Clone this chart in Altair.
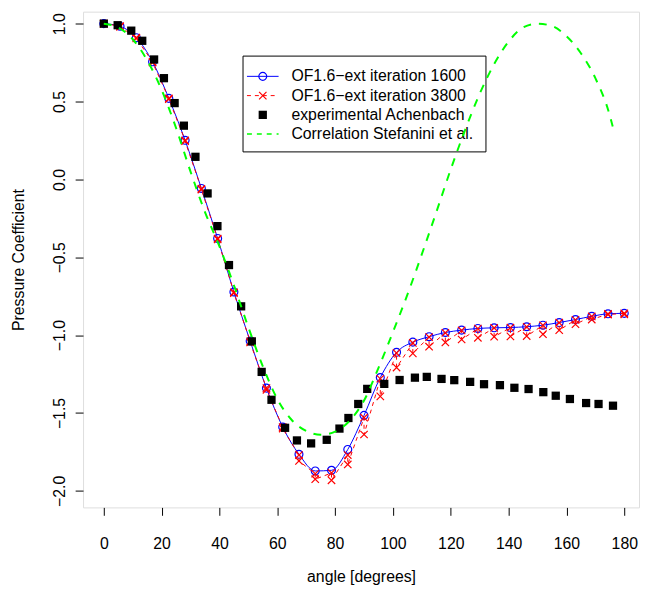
import altair as alt
import pandas as pd

# ---------------- data ----------------
sim_angle = [0, 5.625, 11.25, 16.875, 22.5, 28.125, 33.75, 39.375, 45, 50.625, 56.25,
             61.875, 67.5, 73.125, 78.75, 84.375, 90, 95.625, 101.25, 106.875, 112.5,
             118.125, 123.75, 129.375, 135, 140.625, 146.25, 151.875, 157.5, 163.125,
             168.75, 174.375, 180]
cp_1600 = [1.0, 0.983, 0.91, 0.755, 0.52, 0.251, -0.058, -0.379, -0.723, -1.038, -1.34,
           -1.59, -1.765, -1.872, -1.868, -1.734, -1.515, -1.272, -1.11, -1.045, -1.01,
           -0.983, -0.968, -0.957, -0.953, -0.951, -0.946, -0.936, -0.919, -0.9, -0.879,
           -0.863, -0.86]
cp_3800_a = [1.0, 0.985, 0.91, 0.755, 0.52, 0.25, -0.06, -0.38, -0.725, -1.04, -1.34,
             -1.59, -1.77, -1.89, -1.885, -1.77, -1.53, -1.28, -1.115, -1.05, -1.012,
             -0.985, -0.97, -0.958, -0.954, -0.952, -0.947, -0.937, -0.92, -0.902, -0.88,
             -0.864, -0.86]
cp_3800_b = [1.0, 0.98, 0.905, 0.75, 0.515, 0.245, -0.065, -0.385, -0.73, -1.047, -1.351,
             -1.6, -1.808, -1.925, -1.932, -1.83, -1.638, -1.393, -1.208, -1.117, -1.074,
             -1.047, -1.028, -1.017, -1.01, -1.008, -1.006, -0.994, -0.968, -0.93, -0.9,
             -0.868, -0.866]

exp_angle = [0.0, 4.8, 9.5, 13.3, 17.4, 20.8, 24.5, 27.7, 31.7, 35.9, 39.3, 43.3, 47.5,
             51.2, 54.6, 58.0, 62.7, 66.8, 71.7, 77.1, 81.5, 84.6, 88.0, 91.1, 97.0, 102.3,
             107.6, 111.7, 116.8, 121.2, 126.7, 131.5, 137.0, 142.0, 146.9, 152.0, 156.3,
             161.2, 166.8, 171.1, 176.1]
exp_cp = [1.0, 0.99, 0.955, 0.89, 0.77, 0.65, 0.49, 0.345, 0.145, -0.09, -0.3, -0.55,
          -0.815, -1.04, -1.236, -1.415, -1.595, -1.676, -1.695, -1.672, -1.6, -1.532,
          -1.442, -1.345, -1.313, -1.288, -1.273, -1.268, -1.281, -1.289, -1.3, -1.315,
          -1.321, -1.338, -1.346, -1.366, -1.389, -1.41, -1.436, -1.442, -1.453]

corr_angle = [0, 5, 10, 15, 20, 25, 30, 35, 40, 45, 50, 55, 60, 65, 70, 75, 80, 85, 90,
              95, 100, 105, 110, 115, 120, 125, 130, 135, 140, 145, 150, 155, 160, 165,
              170, 175, 176]
corr_cp = [1.0, 0.975, 0.9, 0.765, 0.575, 0.33, 0.05, -0.21, -0.43, -0.68, -0.95, -1.2,
           -1.41, -1.545, -1.615, -1.64, -1.62, -1.55, -1.42, -1.21, -0.98, -0.74, -0.48,
           -0.21, 0.065, 0.32, 0.55, 0.74, 0.885, 0.975, 1.0, 0.985, 0.92, 0.81, 0.65,
           0.41, 0.34]

legend_labels = ["OF1.6\u2212ext iteration 1600", "OF1.6\u2212ext iteration 3800",
                 "experimental Achenbach", "Correlation Stefanini et al."]

x_ticks = [0, 10, 20, 30, 40, 50, 60, 70, 80, 90, 100, 110, 120, 130, 140, 150, 160, 170, 180]
y_ticks = [-2.0, -1.5, -1.0, -0.5, 0.0, 0.5, 1.0]

# ---------------- tables ----------------
df1600 = pd.DataFrame({"angle": sim_angle, "cp": cp_1600})
rows = []
for i, a in enumerate(sim_angle):
    rows.append({"angle": a, "cp": cp_3800_a[i], "ord": 2 * i})
    rows.append({"angle": a, "cp": cp_3800_b[i], "ord": 2 * i + 1})
df3800 = pd.DataFrame(rows)
dfexp = pd.DataFrame({"angle": exp_angle, "cp": exp_cp})
dfcorr = pd.DataFrame({"angle": corr_angle, "cp": corr_cp})

FONT = "Liberation Sans"
FS = 16

xscale = alt.Scale(domain=[-7.17, 185.1], nice=False, zero=False)
yscale = alt.Scale(domain=[-2.106, 1.077], nice=False, zero=False)

xaxis = alt.Axis(values=x_ticks, labelExpr="datum.value % 20 == 0 ? datum.label : ''",
                 title="angle [degrees]", grid=False, domain=False, tickColor="black",
                 tickSize=8, labelPadding=21, titlePadding=17, labelFont=FONT,
                 titleFont=FONT, labelFontSize=FS, titleFontSize=FS, titleFontWeight="normal",
                 labelColor="black", titleColor="black")
yaxis = alt.Axis(values=y_ticks, format=".1f", title="Pressure Coefficient", grid=False,
                 domain=False, tickColor="black", tickSize=8, labelAngle=270,
                 labelAlign="center", labelBaseline="bottom", labelPadding=8,
                 titlePadding=25, labelFont=FONT, titleFont=FONT, labelFontSize=FS,
                 titleFontSize=FS, titleFontWeight="normal", labelColor="black",
                 titleColor="black")

X = alt.X("angle:Q", scale=xscale, axis=xaxis)
Y = alt.Y("cp:Q", scale=yscale, axis=yaxis)
Xn = alt.X("angle:Q", scale=xscale)
Yn = alt.Y("cp:Q", scale=yscale)

cross = "M-1,-1L1,1M-1,1L1,-1"

blue_line = alt.Chart(df1600).mark_line(color="#0000FF", strokeWidth=1,
                                        interpolate="monotone").encode(x=X, y=Y)
blue_pts = alt.Chart(df1600).mark_point(shape="circle", color="#0000FF", filled=False,
                                        size=64, strokeWidth=1.2, opacity=1).encode(x=Xn, y=Yn)
red_line = alt.Chart(df3800).mark_line(color="#FF0000", strokeWidth=1,
                                       strokeDash=[4, 4]).encode(x=Xn, y=Yn, order="ord:Q")
red_pts = alt.Chart(df3800).mark_point(shape=cross, color="#FF0000", filled=False,
                                       size=56, strokeWidth=1.2, opacity=1).encode(x=Xn, y=Yn)
exp_pts = alt.Chart(dfexp).mark_point(shape="square", color="black", filled=True,
                                      size=70, opacity=1).encode(x=Xn, y=Yn)
corr_line = alt.Chart(dfcorr).mark_line(color="#00FF00", strokeWidth=2, strokeDash=[8, 8],
                                        interpolate="monotone").encode(x=Xn, y=Yn)

# ---------------- legend (R-style box) ----------------
one = pd.DataFrame({"k": [0]})
lg = []
lg.append(alt.Chart(one).mark_rect(fill="white", stroke="black", strokeWidth=1).encode(
    x=alt.value(162), x2=alt.value(408), y=alt.value(45), y2=alt.value(142)))
row_y = [65.5, 85, 104.5, 124]
lx1, lx2, lxm, ltx = 166, 198, 182, 211
lg.append(alt.Chart(one).mark_rule(color="#0000FF", strokeWidth=1).encode(
    x=alt.value(lx1), x2=alt.value(lx2), y=alt.value(row_y[0])))
lg.append(alt.Chart(one).mark_point(shape="circle", color="#0000FF", filled=False, size=64,
                                    strokeWidth=1.2, opacity=1).encode(
    x=alt.value(lxm), y=alt.value(row_y[0])))
lg.append(alt.Chart(one).mark_rule(color="#FF0000", strokeWidth=1, strokeDash=[4, 4]).encode(
    x=alt.value(lx1), x2=alt.value(lx2), y=alt.value(row_y[1])))
lg.append(alt.Chart(one).mark_point(shape=cross, color="#FF0000", filled=False, size=56,
                                    strokeWidth=1.2, opacity=1).encode(
    x=alt.value(lxm), y=alt.value(row_y[1])))
lg.append(alt.Chart(one).mark_point(shape="square", color="black", filled=True, size=70,
                                    opacity=1).encode(x=alt.value(lxm), y=alt.value(row_y[2])))
lg.append(alt.Chart(one).mark_rule(color="#00FF00", strokeWidth=1.5, strokeDash=[5, 5]).encode(
    x=alt.value(lx1), x2=alt.value(lx2), y=alt.value(row_y[3])))
for i, lab in enumerate(legend_labels):
    lg.append(alt.Chart(one).mark_text(align="left", baseline="middle", font=FONT,
                                       fontSize=FS, color="black").encode(
        x=alt.value(ltx), y=alt.value(row_y[i]), text=alt.value(lab)))

chart = alt.layer(blue_line, blue_pts, red_line, red_pts, exp_pts, *lg, corr_line).properties(
    width=563, height=502,
    autosize=alt.AutoSizeParams(type="none"),
    padding={"left": 76, "top": 0, "right": 2, "bottom": 85},
).configure_view(stroke="black", strokeWidth=1).configure(background="white")

chart.save("out.html", embed_options={"renderer": "svg", "actions": False})
